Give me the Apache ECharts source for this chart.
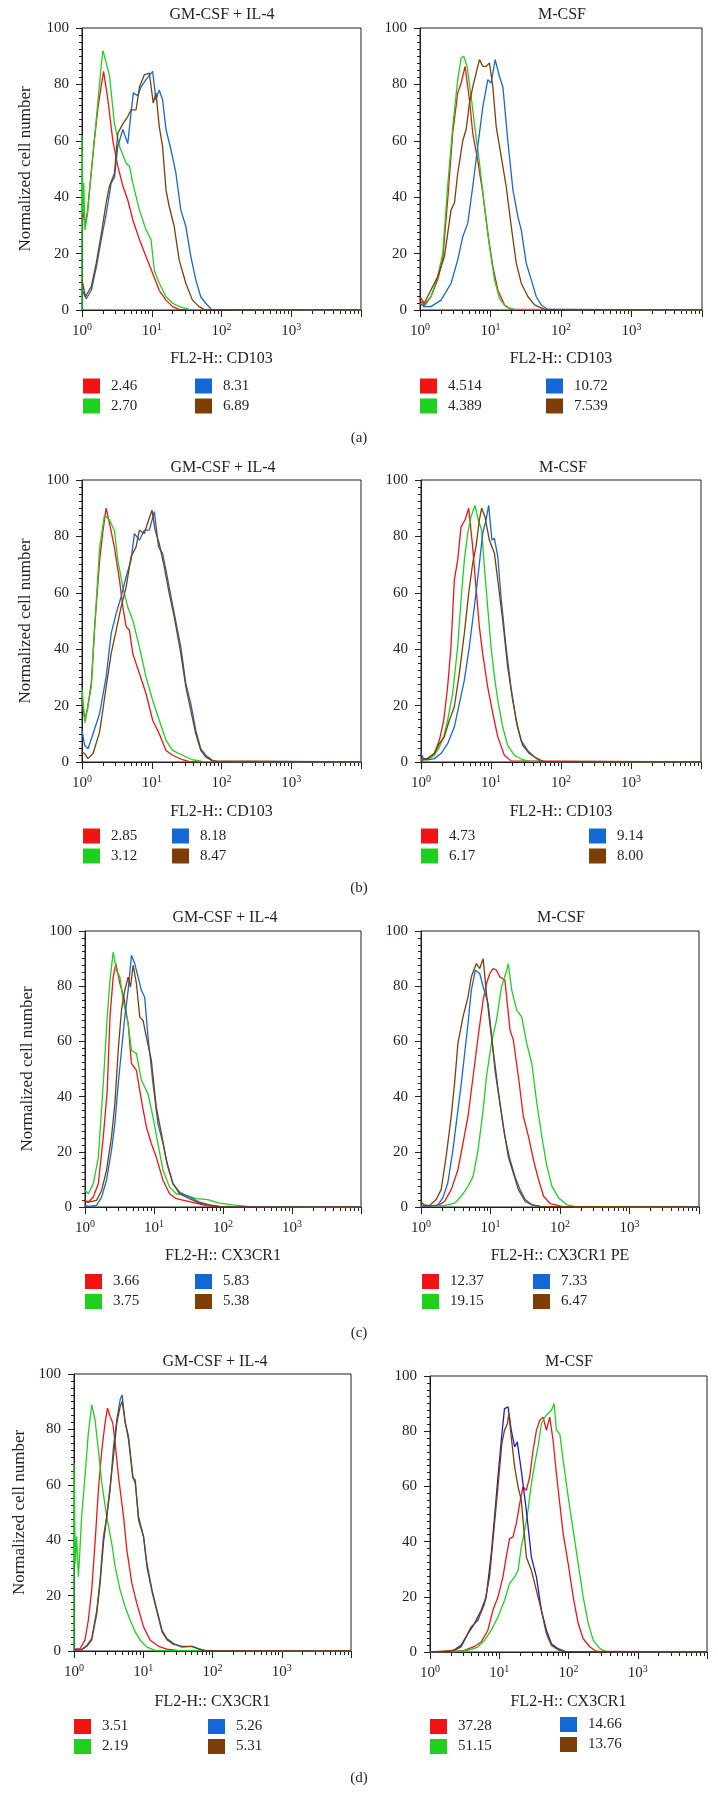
<!DOCTYPE html>
<html><head><meta charset="utf-8">
<script src="https://cdn.jsdelivr.net/npm/echarts@6/dist/echarts.min.js"></script>
<style>html,body{margin:0;padding:0;background:#fff}#c{width:718px;height:1796px}</style>
</head><body><div id="c"></div>
<script>
// ---------- tick labels / axis values ----------
const X_MAJOR = [1, 10, 100, 1000, 10000];
const X_MINOR = [2,3,4,5,6,7,8,9,20,30,40,50,60,70,80,90,200,300,400,500,600,700,800,900,2000,3000,4000,5000,6000,7000,8000,9000];
const Y_TICKS = [0, 20, 40, 60, 80, 100];
const PANEL_LETTERS = ['(a)', '(b)', '(c)', '(d)'];
const TITLES = ['GM-CSF + IL-4', 'M-CSF'];
const X_NAMES = ['FL2-H:: CD103', 'FL2-H:: CD103', 'FL2-H:: CD103', 'FL2-H:: CD103', 'FL2-H:: CX3CR1', 'FL2-H:: CX3CR1 PE', 'FL2-H:: CX3CR1', 'FL2-H:: CX3CR1'];
const Y_NAME = 'Normalized cell number';

// ---------- legend values (red, green, blue, brown) ----------
const A_GM_VALUES = ['2.46', '2.70', '8.31', '6.89'];
const A_M_VALUES = ['4.514', '4.389', '10.72', '7.539'];
const B_GM_VALUES = ['2.85', '3.12', '8.18', '8.47'];
const B_M_VALUES = ['4.73', '6.17', '9.14', '8.00'];
const C_GM_VALUES = ['3.66', '3.75', '5.83', '5.38'];
const C_M_VALUES = ['12.37', '19.15', '7.33', '6.47'];
const D_GM_VALUES = ['3.51', '2.19', '5.26', '5.31'];
const D_M_VALUES = ['37.28', '51.15', '14.66', '13.76'];

// ---------- histogram curves [fluorescence, normalized count] ----------
const A_GM_RED = [[1,38],[1.1,30],[1.2,35],[1.3,44],[1.5,60],[1.7,72],[1.9,80],[2.04,84.6],[2.35,74.5],[2.77,60],[3.26,51],[3.85,44],[4.53,39],[5.34,32],[6.65,25],[8.27,19],[10.3,13],[12.8,7],[16,3.5],[19.9,1.2],[24.7,0.2],[10000,0]];
const A_GM_GREEN = [[1,0],[1,62],[1.03,34],[1.06,45],[1.1,28.4],[1.2,34],[1.3,44],[1.5,60],[1.7,74.5],[1.9,87.6],[2.0,92],[2.48,83],[2.92,66],[3.45,58],[4.29,52],[4.79,51],[5.34,45],[6.65,35.5],[8.27,28.4],[9.75,25],[10.9,14],[12.8,9.5],[16,4.7],[19.9,2.4],[26.1,1],[34.4,0.2],[10000,0]];
const A_GM_BLUE = [[1,7],[1.15,4],[1.36,7],[1.6,15],[1.89,25],[2.22,34],[2.62,45],[2.92,47],[3.26,58],[3.85,64],[4.53,59],[5.05,70],[5.46,77],[6.3,76],[7.0,79],[8.27,81.7],[10.3,84.6],[11.5,74.5],[12.8,78],[14.3,74.5],[16,64],[18.8,57],[22.2,48.5],[26.1,35.5],[30.8,29.6],[36.3,19],[42.8,10.7],[50.4,4.7],[59.4,2.4],[71.5,0.2],[10000,0]];
const A_GM_BROWN = [[1,10.7],[1.12,4.7],[1.36,8.3],[1.6,16.6],[1.89,27],[2.22,38],[2.48,44],[2.92,48.5],[3.26,62.7],[3.85,66],[4.53,68.6],[5.05,71],[5.96,71],[6.65,79],[7.83,83.4],[9.23,84],[10.5,73.4],[11.5,77],[12.8,65],[14.3,58],[16,42.6],[17.8,36.7],[21,29.6],[24.7,17.8],[30.8,9.5],[38.3,3.5],[47.7,1.2],[56.2,0.2],[10000,0]];

const A_M_RED = [[1,3.5],[1.15,1.8],[1.43,4.7],[1.78,10.7],[2.1,17.8],[2.47,39],[2.91,62.7],[3.43,77],[3.83,80.5],[4.36,86.4],[5.03,74.5],[5.6,62.7],[6.6,53],[7.78,41.4],[9.16,27.2],[10.8,15.4],[12.7,7.1],[15.8,1.8],[19.7,0.2],[10000,0]];
const A_M_GREEN = [[1,2.4],[1.15,1.2],[1.43,4.7],[1.78,11.8],[2.1,20],[2.47,44],[2.91,65],[3.43,81.7],[3.83,89.3],[4.17,90],[4.66,86.4],[5.31,75.7],[5.92,66],[6.98,52],[8.22,36.7],[9.68,22.5],[11.4,10.7],[13.4,4.1],[16.7,1],[21.9,0.2],[10000,0]];
const A_M_BLUE = [[1,2.4],[1.15,1.2],[1.43,1.2],[1.99,3.5],[2.76,9.5],[3.43,17.8],[4.04,26],[4.76,30.8],[5.6,43.8],[6.6,58],[7.78,72],[9.16,81.7],[10.2,80.5],[11.65,88.8],[13.4,82.8],[15,79],[17.6,60],[20.8,42.6],[24.5,33],[27.3,28.4],[32.1,16.6],[37.9,10.7],[44.6,4.7],[52.5,1.8],[65.3,0.2],[10000,0]];
const A_M_BROWN = [[1,4.7],[1.15,2.4],[1.36,6],[1.78,11.8],[2.22,19],[2.76,35.5],[3.08,38],[3.43,48.5],[4.04,60],[4.51,64],[5.03,73.4],[5.6,79],[6.25,84],[6.98,88.8],[7.78,86.4],[8.67,86.4],[9.68,87.6],[10.8,79],[12.05,65],[14.2,54.4],[16.7,43.8],[19.7,29.6],[23.2,16.6],[27.3,9.5],[34,4.7],[42.2,1.8],[58.6,0.2],[10000,0]];

const B_GM_RED = [[1,22],[1.1,15],[1.2,19],[1.36,28],[1.52,48],[1.79,71.6],[2.0,82],[2.22,90],[2.48,84.6],[2.92,76],[3.45,64.5],[3.85,55],[4.29,48],[4.79,46.7],[5.34,38.5],[6.65,31.4],[8.27,24.3],[10.3,14.8],[12.8,10],[16,4.1],[19.9,2.4],[27.6,0.8],[34.4,0.1],[10000,0]];
const B_GM_GREEN = [[1,26],[1.1,14],[1.2,19],[1.36,26.6],[1.52,48],[1.79,76],[2.1,87.6],[2.48,85.8],[2.92,82],[3.26,71.6],[3.85,62],[4.53,55],[5.34,50.3],[6.65,40.8],[8.27,30.2],[10.3,21.9],[12.8,14.8],[16,7.7],[19.9,4.1],[27.6,2.4],[38.3,0.8],[53.2,0.2],[10000,0]];
const B_GM_BLUE = [[1,11.2],[1.09,6],[1.22,4.7],[1.44,10],[1.79,17.2],[2.22,30.2],[2.62,45.6],[3.09,52.7],[3.64,58.6],[4.29,65.7],[5.05,71.6],[5.64,81],[6.65,78.7],[7.83,82.2],[9.23,82.2],[10.9,88.8],[12.5,76.3],[14.3,74],[16,68],[17.8,62],[21,52.7],[26.1,40.8],[30.8,27.8],[36.3,20.7],[42.8,11.2],[50.4,4.7],[59.4,2.4],[74,0.6],[87,0.1],[10000,0]];
const B_GM_BROWN = [[1,3.5],[1.09,3],[1.22,1.2],[1.44,3],[1.79,10.7],[2.22,26.6],[2.62,38.5],[3.09,46.7],[3.64,55],[4.29,62],[5.05,72.8],[5.96,76.3],[6.65,82.2],[7.83,81],[9.03,85.8],[10.07,89.3],[11.2,82.2],[12.8,77.5],[15.1,69.2],[17.8,59.8],[21,51.5],[26.1,38.5],[30.8,26.6],[36.3,18.3],[42.8,10],[50.4,4.1],[59.4,1.8],[74,0.4],[10000,0]];

const B_M_RED = [[1,1.2],[1.24,1.2],[1.55,3],[1.83,7.7],[2.11,14.8],[2.4,26.6],[2.68,40.8],[2.99,64.5],[3.34,71.6],[3.73,83.4],[4.25,85.8],[4.8,90],[5.47,76.3],[6.1,62],[6.81,48],[7.6,38.5],[8.96,26.6],[10.6,17.2],[12.5,8.9],[15.5,2.4],[19.3,0.4],[10000,0]];
const B_M_GREEN = [[1,0.6],[1.24,0.8],[1.55,2.4],[1.83,5.3],[2.11,8.9],[2.4,14.8],[2.83,24.3],[3.34,40.8],[3.73,57.4],[4.16,71.6],[4.64,81],[5.18,87],[5.91,91],[6.59,85.8],[7.36,82.2],[8.03,69.2],[8.96,55],[10,40.8],[11.2,30.2],[12.5,21.9],[14.7,12.4],[17.3,5.9],[21.5,2.4],[28.3,0.8],[37.3,0.1],[10000,0]];
const B_M_BLUE = [[1,3],[1.09,1.2],[1.24,0.8],[1.55,1.2],[1.93,3],[2.4,6.5],[2.99,12.4],[3.53,20.7],[4.16,29],[4.9,40.8],[5.78,55],[6.59,66.9],[7.6,81],[8.48,85.8],[9.26,91],[10.3,78.7],[11.2,79.3],[12.5,72.8],[13.9,58.6],[16.4,40.8],[19.3,26.6],[22.8,14.8],[26.8,7.7],[33.4,4.1],[41.6,1.8],[51.8,0.1],[10000,0]];
const B_M_BROWN = [[1,0.6],[1.24,1.2],[1.55,3],[1.83,6.5],[2.15,8.9],[2.54,14.8],[2.99,19.5],[3.53,31.4],[4.16,45.6],[4.8,59.8],[5.47,70.4],[6.1,76.3],[6.81,85.8],[7.36,90],[8.2,87],[9.47,78.7],[11.2,74],[12.5,64.5],[14.7,50.3],[17.3,33.7],[20.4,21.9],[24,12.4],[28.3,5.9],[35.3,3],[44,1.5],[57.8,0.1],[10000,0]];

const C_GM_RED = [[1,2.4],[1.12,1.8],[1.32,3.6],[1.56,8.5],[1.84,25.4],[2.1,42.3],[2.3,68.8],[2.56,83.3],[2.8,88.2],[3.2,81],[3.65,76],[4.22,66.4],[4.71,52],[5.56,49.5],[6.57,38.6],[7.75,29],[9.15,23],[10.8,18],[13.5,9.7],[16.8,4.8],[21,3],[29.3,2.2],[40.8,1.4],[56.8,0.5],[79.3,0.1],[10000,0]];
const C_GM_GREEN = [[1,6],[1.12,4.8],[1.32,8.5],[1.56,18],[1.84,44.7],[2.1,68.8],[2.3,82],[2.56,92.4],[2.86,85.7],[3.2,83.3],[3.57,74.9],[4.22,66.4],[4.71,56.8],[5.56,55.6],[6.57,45.9],[8.19,41],[9.68,32.6],[11.4,23],[13.5,13.3],[16.8,7.2],[21,4.8],[29.3,4.2],[40.8,3],[60.1,2.7],[88.5,1.4],[138,0.8],[227,0.2],[10000,0]];
const C_GM_BLUE = [[1,0.6],[1.12,0.2],[1.47,0.6],[1.74,3.6],[2.05,9.7],[2.42,20.5],[2.71,30.2],[3.03,44.7],[3.38,56.8],[3.77,68.8],[4.22,78.5],[4.71,91.2],[5.26,88.2],[5.88,83.3],[6.57,78.5],[7.33,76],[8.19,61.6],[9.68,44.7],[11.4,30.2],[13.5,23],[15.9,14.5],[18.8,8.5],[23.5,5.4],[32.7,3.6],[45.6,1.8],[63.5,0.8],[88.5,0.2],[10000,0]];
const C_GM_BROWN = [[1,1.8],[1.12,1.8],[1.47,2.4],[1.74,6],[2.05,13.3],[2.42,25.4],[2.71,37.4],[3.03,56.8],[3.38,71.3],[3.77,78.5],[4.22,83.3],[4.56,79.7],[4.98,87.6],[5.56,81],[6.22,68.8],[6.94,67.6],[7.75,61.6],[9.15,53.1],[10.8,36.2],[12.8,26.6],[15.1,16.9],[18.8,8.5],[23.5,4.8],[32.7,3],[45.6,1.4],[71,0.5],[93.5,0.1],[10000,0]];

const C_M_RED = [[1,0.2],[1.74,0.5],[2.18,2],[2.72,6.3],[3.4,13.5],[4.02,23.1],[4.75,32.8],[5.61,47.2],[6.63,61.7],[7.83,74.9],[8.75,81],[9.78,84.6],[10.9,86.4],[12.2,85.8],[13.6,83.4],[16.1,82.2],[19.1,64.1],[21.3,60.5],[25.2,47.2],[29.7,32.8],[35.2,25.5],[41.5,17.1],[49.1,9.9],[58,3.9],[72.4,1.2],[95.7,0.5],[107,0.1],[10000,0]];
const C_M_GREEN = [[1,0.5],[2.18,0.5],[3.04,1.4],[3.8,3.9],[4.75,7.5],[5.61,11.1],[6.63,20.7],[7.83,35.2],[8.75,47.2],[10.3,59.3],[12.2,67.7],[14.4,79.8],[17.1,85.8],[18,88.2],[20.2,78.6],[23.8,71.3],[28.1,68.9],[33.2,59.3],[39.3,52],[46.4,37.6],[54.8,25.5],[64.8,14.7],[76.6,7.5],[95.7,3.3],[126,0.8],[167,0.1],[10000,0]];
const C_M_BLUE = [[1,0.5],[1.32,0.2],[1.74,0.8],[2.06,3.3],[2.43,8.7],[2.88,20.7],[3.4,35.2],[3.8,44.8],[4.25,55.7],[4.75,66.5],[5.3,78.6],[6.06,85.8],[7.0,84.6],[8.09,78.6],[9.25,73.7],[10.3,62.9],[11.6,49.6],[13.6,37.6],[16.1,25.5],[19.1,17.1],[22.5,11.1],[26.6,6.3],[31.5,2.7],[39.3,0.8],[51.9,0.2],[10000,0]];
const C_M_BROWN = [[1,1.7],[1.12,0.8],[1.32,0.5],[1.65,2.7],[1.95,6.3],[2.3,18.3],[2.72,32.8],[3.04,44.8],[3.4,59.3],[4.02,68.9],[4.75,76.1],[5.3,83.4],[6.27,88.2],[7.0,86.4],[7.83,90],[8.75,77.3],[9.78,66.5],[10.9,56.9],[12.9,42.4],[15.3,29.2],[18,18.3],[21.3,12.3],[25.2,6.3],[31.5,2],[39.3,0.8],[51.9,0.2],[10000,0]];

const D_GM_RED = [[1,0.8],[1.22,0.8],[1.44,3.9],[1.61,11.1],[1.8,22],[2.01,38.8],[2.25,58.1],[2.52,72.6],[2.81,82.3],[3.04,87.7],[3.32,84.7],[3.63,82.3],[3.93,75],[4.39,63],[5.19,48.5],[5.8,36.4],[6.85,24.4],[8.09,17.1],[10.1,8.7],[12.6,3.9],[16.7,1.7],[22,0.7],[30.8,0.2],[10000,0]];
const D_GM_GREEN = [[1,0],[1,67.8],[1.045,31.6],[1.09,41.3],[1.16,26.8],[1.29,48.5],[1.44,63],[1.61,78.6],[1.8,88.9],[2.01,83.5],[2.25,72.6],[2.52,60.5],[2.97,48.5],[3.51,38.8],[3.93,30.4],[4.64,22],[5.48,15.9],[6.48,11.1],[7.66,6.9],[9.05,3.9],[11.3,1.4],[14.9,0.2],[10000,0]];
const D_GM_BLUE = [[1,0.2],[1.29,0.5],[1.53,2],[1.8,4.5],[2.13,14.7],[2.38,25.6],[2.66,41.3],[2.97,48.5],[3.32,58.1],[3.72,73.8],[4.15,83.5],[4.64,90.7],[4.96,92.5],[5.48,82.3],[6.13,77.6],[7.08,63],[7.66,60.5],[8.55,48.5],[10.1,41.3],[11.3,31.6],[13.4,22],[15.8,14.7],[18.7,7.5],[22,4.5],[27.5,2.7],[36.3,1.4],[50.7,1.7],[63.4,0.8],[79.2,0.2],[10000,0]];
const D_GM_BROWN = [[1,0.5],[1.29,0.5],[1.53,1.7],[1.8,3.9],[2.13,13.5],[2.38,24.4],[2.66,38.8],[2.97,48.5],[3.32,59.3],[3.72,70.2],[4.15,82.3],[4.64,88.3],[4.96,90.1],[5.48,82.9],[6.13,76.2],[7.08,62.4],[7.66,61.8],[8.55,47.3],[10.1,41.3],[11.3,30.4],[13.4,21.4],[15.8,14.1],[18.7,6.9],[22,4.1],[27.5,2.4],[36.3,1.7],[50.7,1.7],[63.4,0.8],[75,0.1],[10000,0]];

const D_M_RED = [[1,0],[2.25,0.2],[3.15,0.6],[4.39,2],[5.48,3.6],[6.85,7.9],[8.09,15.1],[9.57,19.9],[11.3,27.2],[12.6,34.4],[14.1,41.1],[15.8,41.7],[17.6,46.5],[19.7,53.7],[22,59.8],[24.6,58.6],[27.5,63.4],[30.8,73.1],[34.4,80.3],[38.4,83.9],[42.9,85.1],[48,80.3],[53.6,85.1],[59.9,76.7],[66.9,64.6],[74.8,53.7],[83.7,42.9],[98.9,32],[117,19.9],[138,10.3],[163,4.8],[204,1.8],[255,0.2],[10000,0]];
const D_M_GREEN = [[1,0],[2.25,0.1],[3.51,0.6],[4.91,1.8],[6.13,4.2],[7.66,7.9],[9.57,12.7],[11.9,18.7],[14.1,24.8],[16.7,27.2],[18.7,29.6],[20.8,38],[23.3,44.1],[26,51.3],[29.1,61],[32.5,68.2],[36.3,74.3],[40.6,82.7],[45.4,85.1],[50.7,86.4],[56.7,87.6],[62,90],[66.9,80.3],[74.8,79.1],[83.7,69.4],[98.9,56.2],[117,44.1],[138,32],[163,19.9],[193,10.3],[228,4.2],[284,1.2],[355,0.1],[10000,0]];
const D_M_BLUE = [[1,0],[1.8,0.2],[2.25,0.8],[2.81,2.4],[3.51,6.6],[4.39,10.3],[5.48,15.1],[6.48,19.9],[7.66,35.6],[8.55,48.9],[9.57,63.4],[10.7,76.7],[11.9,88.2],[13.4,88.8],[14.9,80.4],[16.7,74.3],[18.2,76.1],[20.8,65.8],[24.6,51.3],[29.1,34.4],[34.4,27.2],[40.6,15.1],[48,7.9],[56.7,3],[70.8,1.2],[88.5,0.2],[10000,0]];
const D_M_BROWN = [[1,0],[2.25,0.6],[2.81,1.8],[3.32,5.4],[3.93,9.1],[4.91,11.5],[6.13,17.5],[7.24,27.2],[8.37,44.1],[9.57,59.8],[10.9,75.5],[11.9,80.3],[13.1,82.7],[13.8,86.4],[14.9,77.9],[16.7,67],[18.7,59.8],[20.8,55],[24.6,34.4],[29.1,29.6],[34.4,22.3],[40.6,15.1],[48,6.6],[56.7,2.4],[70.8,0.8],[88.5,0.1],[10000,0]];

// ---------- styling / layout ----------
const FONT = 'Liberation Serif';
const INK = '#231f20';
const COLORS = ['#f21414', '#1fd11f', '#1468d6', '#7d3f07'];
const TITLE_SIZE = 16, XNAME_SIZE = 16, YNAME_SIZE = 17, TICK_SIZE = 15, LEG_SIZE = 15;

const PANELS = [
  {curves:[A_GM_RED,A_GM_GREEN,A_GM_BLUE,A_GM_BROWN], values:A_GM_VALUES, t:0, g:[82,28,279,282], tx:222, ty:15, xny:359, yc:26, leg:[[83,378.5],[195,378.5]]},
  {curves:[A_M_RED,A_M_GREEN,A_M_BLUE,A_M_BROWN], values:A_M_VALUES, t:1, g:[420,28,282,282], tx:562, ty:15, xny:359, leg:[[420,378.5],[546,378.5]]},
  {curves:[B_GM_RED,B_GM_GREEN,B_GM_BLUE,B_GM_BROWN], values:B_GM_VALUES, t:0, g:[82,480,279,282], tx:223, ty:467.5, xny:811.5, yc:26, leg:[[83,828.5],[172,828.5]]},
  {curves:[B_M_RED,B_M_GREEN,B_M_BLUE,B_M_BROWN], values:B_M_VALUES, t:1, g:[421,480,280,282], tx:563, ty:467.5, xny:811.5, leg:[[421,828.5],[589,828.5]]},
  {curves:[C_GM_RED,C_GM_GREEN,C_GM_BLUE,C_GM_BROWN], values:C_GM_VALUES, t:0, g:[85,931,276,276], tx:225, ty:918, xny:1256, yc:28, leg:[[85,1274],[195,1274]]},
  {curves:[C_M_RED,C_M_GREEN,C_M_BLUE,C_M_BROWN], values:C_M_VALUES, t:1, g:[421,931,278,276], tx:561, ty:918, xny:1256, leg:[[422,1274],[533,1274]]},
  {curves:[D_GM_RED,D_GM_GREEN,D_GM_BLUE,D_GM_BROWN], values:D_GM_VALUES, t:0, g:[74,1374,277,277], tx:215, ty:1361.5, xny:1702, yc:20, leg:[[74,1719],[208,1719]]},
  {curves:[D_M_RED,D_M_GREEN,D_M_BLUE,D_M_BROWN], values:D_M_VALUES, t:1, g:[430,1376,277,276], tx:569, ty:1361.5, xny:1702, leg:[[430,1719],[560,1717]], lineColors:{2:'#1c1cd8'}}
];
const LETTER_Y = [438, 888, 1333, 1778];

const grid = [], xAxis = [], yAxis = [], series = [], legend = [], graphic = [];
const txt = (size) => ({fontFamily: FONT, fontSize: size, color: INK});

PANELS.forEach((p, i) => {
  const [L, T, W, H] = p.g;
  grid.push({left: L, top: T, width: W, height: H, show: true, borderColor: INK, borderWidth: 1, containLabel: false});
  // main log axis
  xAxis.push({
    type: 'log', logBase: 10, min: X_MAJOR[0], max: X_MAJOR[X_MAJOR.length - 1], gridIndex: i, position: 'bottom',
    name: X_NAMES[i], nameLocation: 'middle', nameGap: p.xny - (T + H) - XNAME_SIZE / 2,
    nameTextStyle: txt(XNAME_SIZE),
    axisLine: {show: true, lineStyle: {color: INK, width: 1}},
    axisTick: {show: true, length: 7, lineStyle: {color: INK}},
    minorTick: {show: false}, splitLine: {show: false},
    axisLabel: {
      margin: 12, ...txt(TICK_SIZE),
      formatter: v => (v >= 10000 ? '' : '{b|10}{s|' + Math.round(Math.log10(v)) + '}'),
      rich: {b: {fontFamily: FONT, fontSize: TICK_SIZE, lineHeight: 15, padding: [4, 0, 0, 0], color: INK},
             s: {fontFamily: FONT, fontSize: 10, lineHeight: 10, verticalAlign: 'top', color: INK}}
    }
  });
  // minor-tick axis (decade sub-divisions 2..9)
  xAxis.push({
    type: 'value', min: 0, max: 4, gridIndex: i, position: 'bottom',
    axisLine: {show: false}, axisLabel: {show: false}, splitLine: {show: false},
    axisTick: {show: true, length: 4, lineStyle: {color: INK}, customValues: X_MINOR.map(v => Math.log10(v))}
  });
  yAxis.push({
    type: 'value', min: Y_TICKS[0], max: Y_TICKS[Y_TICKS.length - 1], interval: 20, gridIndex: i,
    name: p.yc ? Y_NAME : '', nameLocation: 'middle', nameGap: p.yc ? (L - p.yc - YNAME_SIZE / 2) : 0, nameTextStyle: txt(YNAME_SIZE),
    axisLine: {show: true, lineStyle: {color: INK, width: 1}},
    axisTick: {show: true, length: 6, lineStyle: {color: INK}},
    minorTick: {show: true, splitNumber: 8, length: 3, lineStyle: {color: INK}},
    splitLine: {show: false},
    axisLabel: {margin: 13, ...txt(TICK_SIZE)}
  });
  p.curves.forEach((c, k) => {
    const lc = (p.lineColors && p.lineColors[k]) || COLORS[k];
    series.push({
      type: 'line', name: p.values[k], data: c, xAxisIndex: 2 * i, yAxisIndex: i,
      showSymbol: false, symbol: 'none', animation: false, silent: true,
      itemStyle: {color: COLORS[k]}, lineStyle: {color: lc, width: 1.3}
    });
  });
  [[0, 1], [2, 3]].forEach((pair, j) => {
    legend.push({
      orient: 'vertical', left: p.leg[j][0], top: p.leg[j][1], padding: 0, itemGap: 5,
      itemWidth: 17, itemHeight: 15, icon: 'rect', selectedMode: false,
      textStyle: {fontFamily: FONT, fontSize: LEG_SIZE, lineHeight: 15, color: INK, padding: [0, 0, 0, 6]},
      data: pair.map(k => ({name: p.values[k], icon: 'rect', itemStyle: {color: COLORS[k]}}))
    });
  });
  graphic.push({type: 'text', x: p.tx, y: p.ty, silent: true,
    style: {text: TITLES[p.t], font: TITLE_SIZE + 'px "' + FONT + '"', fill: INK, align: 'center', verticalAlign: 'middle', textAlign: 'center', textVerticalAlign: 'middle'}});
});
PANEL_LETTERS.forEach((s, i) => {
  graphic.push({type: 'text', x: 359, y: LETTER_Y[i], silent: true,
    style: {text: s, font: '15px "' + FONT + '"', fill: INK, align: 'center', verticalAlign: 'middle', textAlign: 'center', textVerticalAlign: 'middle'}});
});

const chart = echarts.init(document.getElementById('c'), null, {renderer: 'canvas'});
chart.setOption({backgroundColor: '#fff', animation: false, grid, xAxis, yAxis, series, legend, graphic});
</script></body></html>
